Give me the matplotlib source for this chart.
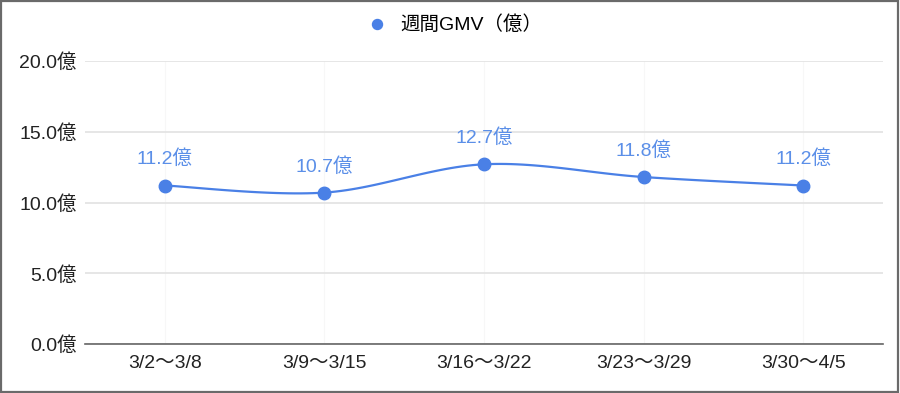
import matplotlib.pyplot as plt
import numpy as np
from matplotlib.patches import Rectangle

plt.rcParams['font.family'] = ['Liberation Sans', 'Noto Sans CJK JP', 'DejaVu Sans']

weeks = ['3/2～3/8', '3/9～3/15', '3/16～3/22', '3/23～3/29', '3/30～4/5']
gmv = [11.2, 10.7, 12.7, 11.8, 11.2]
yticks = [0, 5, 10, 15, 20]
series_name = '週間GMV（億）'

line_col = '#4a80e6'
label_col = '#5b8fe8'

x = np.arange(len(weeks))
y = np.array(gmv)

# smooth curve through the points (catmull-rom)
px = np.concatenate([[x[0]], x, [x[-1]]])
py = np.concatenate([[y[0]], y, [y[-1]]])
cx, cy = [], []
t = np.linspace(0, 1, 30)
for i in range(1, len(px) - 2):
    p0, p1, p2, p3 = py[i-1], py[i], py[i+1], py[i+2]
    q0, q1, q2, q3 = px[i-1], px[i], px[i+1], px[i+2]
    cy.append(0.5 * ((2*p1) + (-p0+p2)*t + (2*p0-5*p1+4*p2-p3)*t**2 + (-p0+3*p1-3*p2+p3)*t**3))
    cx.append(0.5 * ((2*q1) + (-q0+q2)*t + (2*q0-5*q1+4*q2-q3)*t**2 + (-q0+3*q1-3*q2+q3)*t**3))
cx = np.concatenate(cx)
cy = np.concatenate(cy)

fig = plt.figure(figsize=(9, 3.93), dpi=100)
ax = fig.add_axes([85/900, 49/393, 798/900, 283/393])

for v in x:
    ax.axvline(v, color='#f7f7f7', lw=0.8, zorder=0)
ax.plot(cx, cy, color=line_col, lw=1.6, zorder=3)
ax.plot(x, y, 'o', color=line_col, ms=9, zorder=4, label=series_name)

for xi, yi in zip(x, y):
    ax.annotate(f'{yi:.1f}億', (xi, yi), xytext=(0, 19), textcoords='offset points',
                ha='center', va='center', color=label_col, fontsize=14)

ax.set_xlim(-0.5, len(weeks) - 0.5)
ax.set_ylim(0, 20)
ax.set_yticks(yticks)
ax.set_yticklabels([f'{v:.1f}億' for v in yticks], fontsize=14, color='#222222')
ax.set_xticks(x)
ax.set_xticklabels(weeks, fontsize=14, color='#222222')
ax.tick_params(axis='both', length=0)
ax.tick_params(axis='y', pad=6)
ax.tick_params(axis='x', pad=8)
ax.grid(axis='y', color='#e2e2e2', lw=1.2)
ax.set_axisbelow(True)
for s in ['top', 'right', 'left']:
    ax.spines[s].set_visible(False)
ax.spines['bottom'].set_color('#666666')
ax.spines['bottom'].set_linewidth(1.2)
ax.spines['bottom'].set_zorder(2)

fig.legend(loc='center', bbox_to_anchor=(0.5, 1 - 25/393), frameon=False,
           fontsize=14, handletextpad=0.2, markerscale=0.8)

fig.patches.append(Rectangle((0.001, 0.002), 0.997, 0.995, transform=fig.transFigure,
                             fill=False, edgecolor='#6a6a6a', lw=1.6))

fig.savefig('out.png', dpi=100)
